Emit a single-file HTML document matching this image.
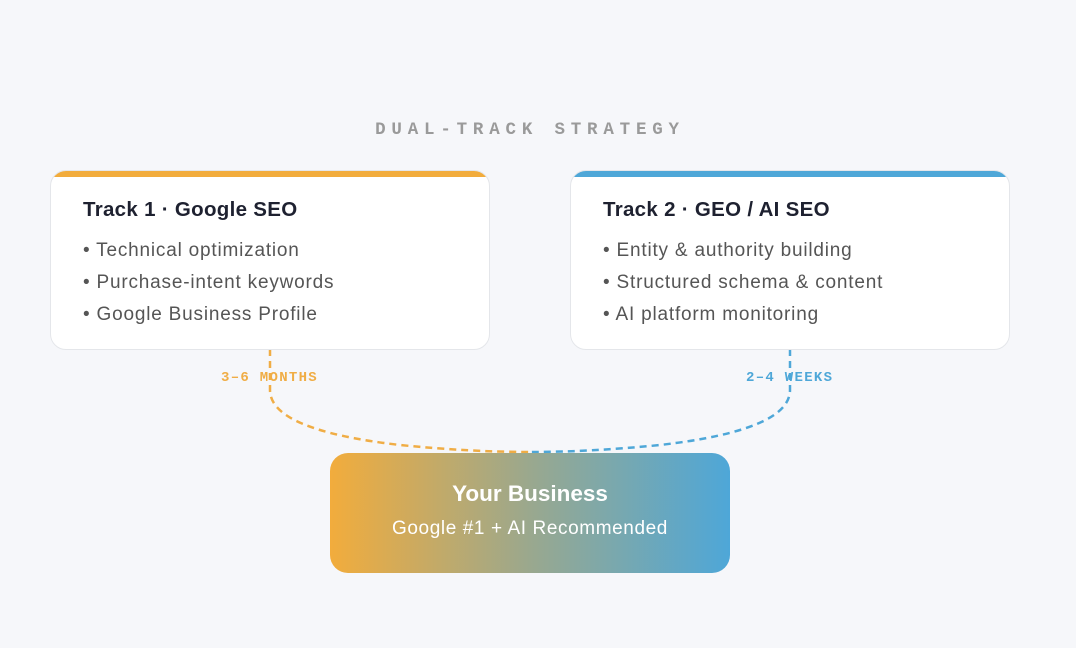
<!DOCTYPE html>
<html><head><style>
body{margin:0;width:1076px;height:648px;background:#f6f7fa;position:relative;font-family:"Liberation Sans",sans-serif;overflow:hidden}
.t{position:absolute;top:120px;left:0;width:1060px;text-align:center;font:bold 17.5px "Liberation Mono",monospace;letter-spacing:5.8px;color:#9a9a9a}
.card{position:absolute;top:170px;width:438px;height:178px;background:#fff;border:1px solid #e4e6ea;border-radius:16px;overflow:hidden}
.bar{position:absolute;top:0;left:0;right:0;height:6px;border-radius:3px}
.card h3{margin:0;position:absolute;top:27px;left:32px;font-size:20.5px;font-weight:bold;color:#1e2130;letter-spacing:0.3px}
.card ul{list-style:none;margin:0;padding:0;position:absolute;top:64px;left:32px;font-size:19px;color:#555;line-height:32px;letter-spacing:0.8px}
.lbl{position:absolute;top:370px;font:bold 14px "Liberation Mono",monospace;letter-spacing:1.3px}
.biz{position:absolute;left:330px;top:453px;width:400px;height:120px;border-radius:18px;background:linear-gradient(90deg,#f2ac3c,#9aa88e 50%,#4ea7d8);color:#fff;text-align:center}
</style></head><body>
<div class="t">DUAL-TRACK STRATEGY</div>
<svg width="1076" height="648" style="position:absolute;left:0;top:0">
<path d="M270 349 V390 Q270 430 400 445 Q470 452 530 452" fill="none" stroke="#f0ad45" stroke-width="2.5" stroke-dasharray="7 5"/>
<path d="M790 349 V390 Q790 430 660 445 Q590 452 530 452" fill="none" stroke="#4ea7d8" stroke-width="2.5" stroke-dasharray="7 5"/>
</svg>
<div class="card" style="left:50px"><div class="bar" style="background:#f2ac3c"></div><h3>Track 1 · Google SEO</h3><ul><li>• Technical optimization</li><li>• Purchase-intent keywords</li><li>• Google Business Profile</li></ul></div>
<div class="card" style="left:570px"><div class="bar" style="background:#4ea7d8"></div><h3>Track 2 · GEO / AI SEO</h3><ul><li>• Entity &amp; authority building</li><li>• Structured schema &amp; content</li><li>• AI platform monitoring</li></ul></div>
<div class="lbl" style="left:221px;color:#f0ad45">3–6 MONTHS</div>
<div class="lbl" style="left:746px;color:#4ea7d8">2–4 WEEKS</div>
<div class="biz"><div style="margin-top:28px;font-size:22.5px;font-weight:bold">Your Business</div><div style="margin-top:11px;font-size:19px;letter-spacing:0.6px">Google #1 + AI Recommended</div></div>
</body></html>
